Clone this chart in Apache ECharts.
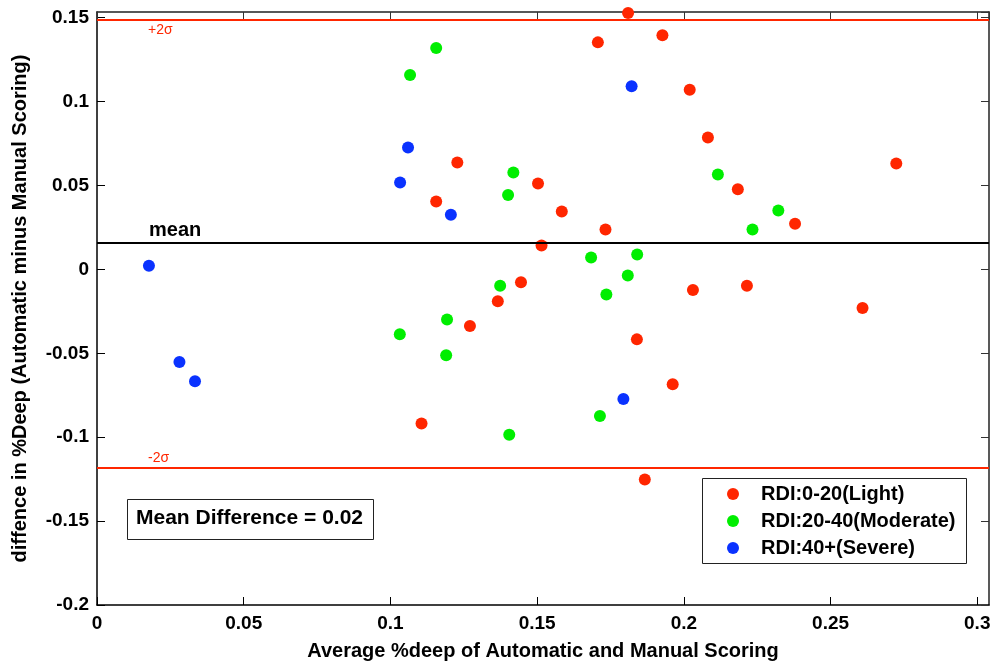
<!DOCTYPE html>
<html>
<head>
<meta http-equiv="Content-Type" content="text/html; charset=utf-8">
<title>Bland-Altman %Deep</title>
<script src="https://cdn.jsdelivr.net/npm/echarts@6/dist/echarts.min.js"></script>
<style>
  html, body { margin: 0; padding: 0; background: #fff; }
  #chart { width: 995px; height: 666px; }
</style>
</head>
<body>
<div id="chart"></div>
<script type="text/javascript">
  // points: [average, difference]
  var light = [
    [0.181, 0.1528], [0.1707, 0.1353], [0.1927, 0.1395], [0.202, 0.1071],
    [0.2082, 0.0786], [0.2724, 0.0631], [0.2184, 0.0478], [0.2379, 0.0272],
    [0.1228, 0.0637], [0.1156, 0.0405], [0.1503, 0.0512], [0.1584, 0.0345],
    [0.1733, 0.0238], [0.1515, 0.0143], [0.1445, -0.0077], [0.1366, -0.019],
    [0.1271, -0.0337], [0.184, -0.0417], [0.2031, -0.0123], [0.2215, -0.0097],
    [0.2609, -0.023], [0.1962, -0.0685], [0.1106, -0.0919], [0.1867, -0.1252]
  ];
  var moderate = [
    [0.1156, 0.132], [0.1067, 0.1159], [0.1419, 0.0577], [0.1401, 0.0444],
    [0.2116, 0.0565], [0.2322, 0.0351], [0.2234, 0.0238], [0.1841, 0.0089],
    [0.1684, 0.0071], [0.1809, -0.0036], [0.1374, -0.0097], [0.1736, -0.0149],
    [0.1193, -0.0298], [0.1032, -0.0387], [0.119, -0.0512], [0.1714, -0.0873],
    [0.1405, -0.0986]
  ];
  var severe = [
    [0.0177, 0.0022], [0.0281, -0.0552], [0.0334, -0.0667], [0.106, 0.0726],
    [0.1033, 0.0518], [0.1206, 0.0326], [0.1822, 0.1091], [0.1794, -0.0772]
  ];
  var seriesNames = ['RDI:0-20(Light)', 'RDI:20-40(Moderate)', 'RDI:40+(Severe)'];
  var meanDiff = 0.016;
  var upperLimit = 0.149;
  var lowerLimit = -0.118;

  var font = 'Liberation Sans, Arial, Helvetica, sans-serif';
  var red = '#ff2600', green = '#00ee00', blue = '#0a32ff';

  function mirrorAxis(pos, min, max) {
    return {
      type: 'value', position: pos, min: min, max: max, interval: 0.05,
      axisLine: { show: true, onZero: false, lineStyle: { color: '#222', width: 1.5 } },
      axisTick: { show: true, inside: true, length: 8, lineStyle: { color: '#333', width: 1 } },
      axisLabel: { show: false },
      splitLine: { show: false }
    };
  }

  var option = {
    animation: false,
    grid: { left: 97, right: 6, top: 12, bottom: 61 },
    xAxis: [{
      type: 'value', min: 0, max: 0.304, interval: 0.05,
      name: 'Average %deep of Automatic and Manual Scoring',
      nameLocation: 'middle', nameGap: 36,
      nameTextStyle: { fontFamily: font, fontWeight: 'bold', fontSize: 20, color: '#000' },
      axisLine: { show: true, onZero: false, lineStyle: { color: '#000', width: 1.5 } },
      axisTick: { show: true, inside: true, length: 8, lineStyle: { color: '#000', width: 1 } },
      axisLabel: { showMaxLabel: false, margin: 9, fontFamily: font, fontWeight: 'bold', fontSize: 19, color: '#000' },
      splitLine: { show: false }
    }, mirrorAxis('top', 0, 0.304)],
    yAxis: [{
      type: 'value', min: -0.2, max: 0.1534, interval: 0.05,
      name: 'diffence in %Deep (Automatic minus Manual Scoring)',
      nameLocation: 'middle', nameGap: 67,
      nameTextStyle: { fontFamily: font, fontWeight: 'bold', fontSize: 20, color: '#000' },
      axisLine: { show: true, onZero: false, lineStyle: { color: '#000', width: 1.5 } },
      axisTick: { show: true, inside: true, length: 8, lineStyle: { color: '#000', width: 1 } },
      axisLabel: { showMaxLabel: false, margin: 8, fontFamily: font, fontWeight: 'bold', fontSize: 19, color: '#000' },
      splitLine: { show: false }
    }, mirrorAxis('right', -0.2, 0.1534)],
    legend: {
      orient: 'vertical', left: 727, top: 484, padding: 0,
      itemWidth: 12, itemHeight: 12, itemGap: 7,
      icon: 'circle',
      textStyle: { fontFamily: font, fontWeight: 'bold', fontSize: 20, color: '#000', lineHeight: 20, padding: [0, 0, 0, 17] },
      data: seriesNames
    },
    graphic: [
      { type: 'rect', left: 702, top: 478, shape: { width: 264, height: 85 },
        style: { fill: '#fff', stroke: '#222', lineWidth: 1 }, z: 0 },
      { type: 'rect', left: 127, top: 499, shape: { width: 246, height: 40 },
        style: { fill: '#fff', stroke: '#222', lineWidth: 1 }, z: 0 },
      { type: 'text', left: 136, top: 508,
        style: { text: 'Mean Difference = 0.02', font: 'bold 21px ' + font, fill: '#000' }, z: 1 }
    ],
    series: [{
      type: 'scatter', name: 'limits', data: [], z: 1, silent: true,
      markLine: {
        symbol: 'none', silent: true, animation: false, precision: 4,
        data: [
          { yAxis: upperLimit, lineStyle: { color: red, width: 2, type: 'solid' },
            label: { formatter: '+2\u03c3', position: 'insideStartBottom', distance: [51, 4],
                     color: red, fontFamily: font, fontSize: 14 } },
          { yAxis: lowerLimit, lineStyle: { color: red, width: 2, type: 'solid' },
            label: { formatter: '-2\u03c3', position: 'insideStartTop', distance: [51, 2],
                     color: red, fontFamily: font, fontSize: 14 } },
          { yAxis: meanDiff, lineStyle: { color: '#000', width: 2, type: 'solid' },
            label: { formatter: 'mean', position: 'insideStartTop', distance: [52, 2],
                     color: '#000', fontFamily: font, fontWeight: 'bold', fontSize: 20 } }
        ]
      }
    }, {
      type: 'scatter', name: seriesNames[0], data: light, symbolSize: 12, z: 3,
      itemStyle: { color: red, opacity: 1 }
    }, {
      type: 'scatter', name: seriesNames[1], data: moderate, symbolSize: 12, z: 3,
      itemStyle: { color: green, opacity: 1 }
    }, {
      type: 'scatter', name: seriesNames[2], data: severe, symbolSize: 12, z: 3,
      itemStyle: { color: blue, opacity: 1 }
    }]
  };

  var chart = echarts.init(document.getElementById('chart'));
  chart.setOption(option);
</script>
</body>
</html>
